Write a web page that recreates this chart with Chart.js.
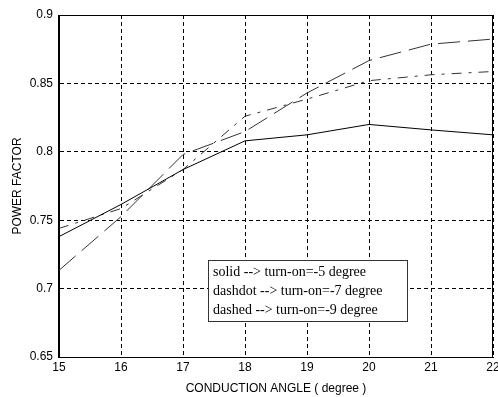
<!DOCTYPE html>
<html>
<head>
<meta charset="utf-8">
<script src="https://cdn.jsdelivr.net/npm/chart.js@4.4.0/dist/chart.umd.min.js"></script>
<style>
  html, body { margin: 0; padding: 0; background: #fff; }
  #wrap { width: 498px; height: 397px; }
</style>
</head>
<body>
<div id="wrap"><canvas id="pf-chart" width="498" height="397"></canvas></div>
<script>
// conduction angle (degree)
const angles = [15, 16, 17, 18, 19, 20, 21, 22];

// power factor for each turn-on angle
const pfTurnOn5 = [0.738, 0.7615, 0.787, 0.808, 0.8124, 0.820, 0.816, 0.8124];
const pfTurnOn7 = [0.744, 0.7585, 0.787, 0.826, 0.8385, 0.852, 0.8563, 0.8587];
const pfTurnOn9 = [0.7134, 0.7526, 0.798, 0.8148, 0.843, 0.8667, 0.8787, 0.8824];

const legendLabels = [
    'solid --> turn-on=-5 degree',
    'dashdot --> turn-on=-7 degree',
    'dashed --> turn-on=-9 degree'
];

const xTitle = 'CONDUCTION ANGLE ( degree )';
const yTitle = 'POWER FACTOR';

function toPoints(values) {
    return values.map((v, i) => ({ x: angles[i], y: v }));
}

// frame round the plot and the text box of the legend
const framePlugin = {
    id: 'frame',
    afterDraw(chart) {
        const ctx = chart.ctx;
        const a = chart.chartArea;
        ctx.save();
        ctx.setLineDash([]);
        ctx.strokeStyle = '#000';
        ctx.lineWidth = 1;
        ctx.strokeRect(Math.round(a.left) - 0.5, Math.round(a.top) + 0.5,
            Math.round(a.right - a.left), Math.round(a.bottom - a.top));

        // legend box
        const bx = 208, by = 260, bw = 199, bh = 61;
        ctx.fillStyle = '#fff';
        ctx.fillRect(bx, by, bw, bh);
        ctx.strokeStyle = '#333';
        ctx.strokeRect(bx + 0.5, by + 0.5, bw, bh);
        ctx.fillStyle = '#000';
        ctx.font = '14px "Liberation Serif", "Times New Roman", serif';
        ctx.textBaseline = 'alphabetic';
        legendLabels.forEach((txt, i) => {
            ctx.fillText(txt, bx + 5, by + 16 + i * 19);
        });
        ctx.restore();
    }
};

const tickFont = { family: '"Liberation Sans", Arial, sans-serif', size: 12 };

new Chart(document.getElementById('pf-chart'), {
    type: 'line',
    data: {
        datasets: [
            {
                label: legendLabels[0],
                data: toPoints(pfTurnOn5),
                borderColor: '#000',
                borderWidth: 1
            },
            {
                label: legendLabels[1],
                data: toPoints(pfTurnOn7),
                borderColor: '#333',
                borderWidth: 1,
                borderDash: [10, 7, 3, 7]
            },
            {
                label: legendLabels[2],
                data: toPoints(pfTurnOn9),
                borderColor: '#333',
                borderWidth: 1,
                borderDash: [22, 8]
            }
        ]
    },
    options: {
        responsive: false,
        animation: false,
        layout: { padding: { top: 15, right: 5, left: 0, bottom: 0 } },
        elements: {
            point: { radius: 0, hoverRadius: 0 },
            line: { tension: 0, fill: false }
        },
        plugins: {
            legend: { display: false },
            tooltip: { enabled: false }
        },
        scales: {
            x: {
                type: 'linear',
                min: 15,
                max: 22,
                afterFit(scale) {
                    scale.height = 40;
                    scale.paddingLeft = 0;
                    scale.paddingRight = 0;
                },
                ticks: { stepSize: 1, color: '#000', font: tickFont, padding: 3, maxRotation: 0 },
                grid: { color: '#000', lineWidth: 1, drawTicks: false },
                border: { display: true, color: '#000', dash: [4, 3] },
                title: {
                    display: true,
                    text: xTitle,
                    color: '#000',
                    font: tickFont,
                    padding: { top: 0, bottom: 1 }
                }
            },
            y: {
                min: 0.65,
                max: 0.9,
                afterFit(scale) {
                    scale.width = 59;
                    scale.paddingTop = 0;
                    scale.paddingBottom = 0;
                },
                ticks: {
                    stepSize: 0.05,
                    color: '#000',
                    font: tickFont,
                    padding: 6,
                    callback: v => String(Math.round(v * 100) / 100)
                },
                grid: { color: '#000', lineWidth: 1, drawTicks: false },
                border: { display: true, color: '#000', dash: [4, 3] },
                title: {
                    display: true,
                    text: yTitle,
                    color: '#000',
                    font: tickFont,
                    padding: { top: 10, bottom: 0 }
                }
            }
        }
    },
    plugins: [framePlugin]
});
</script>
</body>
</html>
